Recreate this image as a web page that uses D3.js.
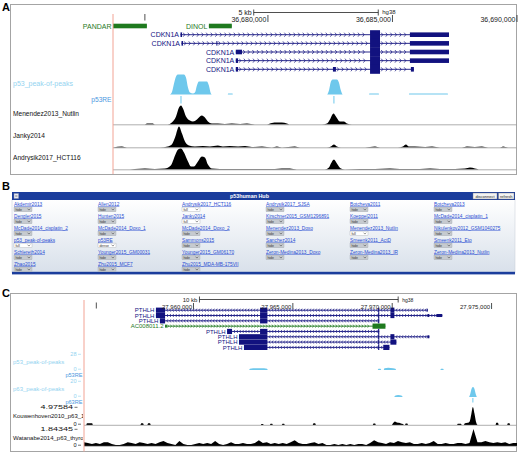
<!DOCTYPE html>
<html>
<head>
<meta charset="utf-8">
<script src="https://cdn.jsdelivr.net/npm/d3@7"></script>
<style>
  body { margin: 0; background: #fff; }
  svg { display: block; font-family: "Liberation Sans", Arial, Helvetica, sans-serif; }
</style>
</head>
<body>
<svg id="fig" width="520" height="453"></svg>
<script>
// ---------- panel A : CDKN1A locus (hg38, positions in kb) ----------
var regionA = [36673.78, 36690.00];
var rulerTicksA = [36680, 36685, 36690];
var rulerLabelsA = ["36,680,000", "36,685,000", "36,690,000"];
var scaleBarA = [36679.43, 36684.43];   // 5 kb
var markA = 36675.06;

// exon = [start, end, kind]  kind: "t" tall (coding), "u" short (utr / ncRNA)
var genesA = [
  { name: "PANDAR", row: 0, nc: true, strand: "", exons: [[36672.00, 36675.14, "u"]] },
  { name: "DINOL",  row: 0, nc: true, strand: "", exons: [[36677.63, 36678.55, "u"]] },
  { name: "CDKN1A", row: 1, strand: "+", exons: [[36676.49, 36676.55, "u"], [36684.10, 36684.50, "t"], [36685.70, 36687.27, "u"]] },
  { name: "CDKN1A", row: 2, strand: "+", exons: [[36676.53, 36676.59, "u"], [36677.93, 36677.97, "u"], [36684.10, 36684.50, "t"], [36685.70, 36687.27, "u"]] },
  { name: "CDKN1A", row: 3, strand: "+", exons: [[36678.71, 36678.96, "u"], [36684.10, 36684.50, "t"], [36685.70, 36687.27, "u"]] },
  { name: "CDKN1A", row: 4, strand: "+", exons: [[36678.71, 36678.80, "u"], [36684.10, 36684.50, "t"], [36685.70, 36687.27, "u"]] },
  { name: "CDKN1A", row: 5, strand: "+", exons: [[36678.71, 36678.80, "u"], [36682.61, 36682.73, "u"], [36684.10, 36684.50, "t"], [36685.74, 36685.86, "u"]] }
];

var p53PeaksA = [[36673.78,0],[36676.06,0],[36676.14,2],[36676.22,10],[36676.31,18],[36676.39,20],[36676.63,20],[36676.71,17],
  [36676.79,7],[36676.87,2],[36676.99,1],[36677.07,2],[36677.15,9],[36677.23,13],[36677.55,13],[36677.63,9],[36677.71,1],[36677.75,0],
  [36678.39,0],[36678.40,1],[36678.58,1],[36678.59,0],
  [36682.37,0],[36682.45,4],[36682.53,13],[36682.61,15],[36682.77,15],[36682.85,12],[36682.93,4],[36683.01,0],
  [36684.06,0],[36684.07,1],[36684.45,1],[36684.46,0],[36685.66,0],[36685.67,1],[36687.22,1],[36687.23,0],[36690.00,0]];
var p53REA = [36676.51, 36682.65];

var menendezA = [[36673.78,0],[36675.06,0],[36675.14,1],[36675.38,1],[36675.46,0],[36675.98,0],[36676.14,2],[36676.31,8],
  [36676.43,17],[36676.51,19],[36676.59,16],[36676.71,8],[36676.87,4],[36676.99,3],[36677.15,5],[36677.27,8],[36677.35,9],
  [36677.47,7],[36677.59,3],[36677.75,1],[36677.99,1],[36678.27,0.5],[36678.55,1],[36678.88,0.5],[36679.16,1],[36679.48,0],
  [36679.96,0],[36680.16,1.5],[36680.36,2],[36680.56,2],[36680.76,1],[36680.88,0],[36682.17,0],[36682.37,1],[36682.49,5],
  [36682.63,11],[36682.73,8],[36682.89,3],[36683.05,3],[36683.17,1],[36683.37,0],[36690.00,0]];
var jankyA = [[36673.78,0],[36674.14,1],[36674.34,0],[36675.66,0],[36675.98,1],[36676.14,3],[36676.27,10],[36676.43,21],
  [36676.55,14],[36676.67,6],[36676.83,2],[36677.07,1],[36677.39,1.5],[36677.67,1],[36677.99,2],[36678.19,1],[36678.47,1.5],
  [36678.80,1],[36679.08,1.5],[36679.36,0.5],[36679.76,1],[36680.16,0],[36680.36,1],[36680.56,0],[36681.08,1],[36681.29,0],
  [36682.37,0],[36682.53,1],[36682.65,3],[36682.77,1],[36682.93,0],[36683.90,0],[36684.30,1],[36684.50,0],[36685.22,0],
  [36685.42,1],[36685.54,3],[36685.66,1],[36685.90,1],[36686.31,0.5],[36686.59,1],[36686.91,0],[36687.79,0],[36687.99,1],
  [36688.31,0.5],[36688.59,1],[36688.84,0],[36689.32,0],[36689.44,1],[36689.64,0],[36690.00,0]];
var andrysikA = [[36673.78,0],[36674.46,0],[36674.66,0.5],[36675.06,1],[36675.46,0.5],[36675.86,1],[36676.10,4],[36676.27,14],
  [36676.39,20],[36676.51,21],[36676.63,17],[36676.79,8],[36676.91,3],[36677.03,3],[36677.19,8],[36677.35,13],[36677.47,12],
  [36677.59,5],[36677.75,1],[36678.07,0.5],[36678.88,0.5],[36679.68,0.5],[36680.28,0.5],[36680.56,1],[36680.88,1],[36681.16,0],
  [36682.29,0],[36682.45,2],[36682.53,6],[36682.65,10],[36682.77,6],[36682.93,1],[36683.09,0],[36683.69,0.5],[36684.30,0.5],
  [36684.90,1],[36685.30,0.5],[36686.10,0.5],[36686.51,1],[36686.91,0.5],[36687.51,0.5],[36687.91,1],[36688.11,2],[36688.31,1],
  [36688.51,0],[36690.00,0]];

// ---------- panel B : track hub ----------
var hubNames = [
  "Akdemir2013", "Allen2012", "Andrysik2017_HCT116", "Andrysik2017_SJSA", "Botcheva2011", "Botcheva2013",
  "Dengler2015", "Hunten2015", "Janky2014", "Kirschner2015_GSM1296891", "Koeppel2011", "McDade2014_cisplatin_1",
  "McDade2014_cisplatin_2", "McDade2014_Doxo_1", "McDade2014_Doxo_2", "Menendez2013_Doxo", "Menendez2013_Nutlin", "Nikulenkov2012_GSM1040275",
  "p53_peak-of-peaks", "p53RE", "Sammons2015", "Sanchez2014", "Smeenk2011_ActD", "Smeenk2011_Eto",
  "Schlereth2014", "Younger2015_GM00031", "Younger2015_GM06170", "Zeron-Medina2013_Doxo", "Zeron-Medina2013_IR", "Zeron-Medina2013_Nutlin",
  "Zhao2015", "Zhu2015_MCF7", "Zhu2015_MDA-MB-175VII"
];
var hubModes = [
  "hide", "hide", "full", "hide", "hide", "hide",
  "hide", "hide", "full", "hide", "hide", "hide",
  "hide", "hide", "hide", "hide", "full", "hide",
  "full", "dense", "hide", "hide", "hide", "hide",
  "hide", "hide", "hide", "hide", "hide", "hide",
  "hide", "hide", "hide"
];

// ---------- panel C : PTHLH locus (hg38, kb) ----------
var regionC = [27954.49, 27976.28];
var rulerTicksC = [27960, 27965, 27970, 27975];
var rulerLabelsC = ["27,960,000", "27,965,000", "27,970,000", "27,975,000"];
var scaleBarC = [27960.30, 27970.30];   // 10 kb
var markC = 27955.11;

var genesC = [
  { name: "PTHLH", strand: "-", exons: [[27958.11,27958.57,"t"],[27963.35,27963.72,"t"],[27969.29,27969.35,"t"],[27969.91,27970.11,"t"],[27971.74,27971.79,"u"]] },
  { name: "PTHLH", strand: "-", exons: [[27958.11,27958.57,"t"],[27963.35,27963.72,"t"],[27969.29,27969.35,"t"],[27969.91,27970.11,"t"],[27971.77,27971.87,"u"],[27972.22,27972.52,"u"]] },
  { name: "PTHLH", strand: "-", exons: [[27958.31,27958.57,"t"],[27963.35,27963.72,"t"],[27969.29,27969.35,"t"]] },
  { name: "AC008011.2", nc: true, strand: "+", exons: [[27958.57,27958.66,"u"],[27969.01,27969.66,"t"]] },
  { name: "PTHLH", strand: "-", exons: [[27961.69,27961.94,"t"],[27963.35,27963.72,"t"],[27969.29,27969.35,"t"]] },
  { name: "PTHLH", strand: "-", exons: [[27962.29,27963.72,"t"],[27969.29,27969.35,"t"],[27969.91,27970.11,"t"],[27971.77,27971.87,"u"]] },
  { name: "PTHLH", strand: "-", exons: [[27962.29,27963.72,"t"],[27969.29,27969.35,"t"],[27969.91,27970.21,"t"]] },
  { name: "PTHLH", strand: "-", exons: [[27962.54,27963.72,"t"],[27969.29,27969.35,"t"],[27969.55,27969.86,"t"]] }
];

var p53PeaksC = [[27954.49,0],[27962.80,0],[27962.84,2],[27963.00,3],[27963.55,3],[27963.70,2],[27963.74,0],
  [27969.27,0],[27969.31,2],[27969.41,2],[27969.45,0],[27969.57,0],[27969.61,3],[27969.80,4],[27970.05,3],[27970.16,2],[27970.20,0],
  [27972.42,0],[27972.46,2],[27972.56,2],[27972.60,0],[27976.28,0]];
var p63PeaksC = [[27954.49,0],[27970.10,0],[27970.14,1.5],[27970.30,2.5],[27970.49,1.5],[27970.53,0],
  [27973.86,0],[27973.92,3],[27973.99,10],[27974.06,12.5],[27974.14,10],[27974.21,3],[27974.27,0],[27976.28,0]];
var p63REC = [27974.06];
var kouwenhovenC = [[27954.49,0],[27954.60,0],[27954.64,0.5],[27954.90,0.5],[27954.94,0],
  [27957.33,0],[27957.37,0.45],[27957.46,0.45],[27957.50,0],[27957.68,0],[27957.72,0.45],[27957.81,0.45],[27957.85,0],
  [27963.38,0],[27963.42,0.3],[27963.50,0.3],[27963.54,0],[27963.84,0],[27963.88,0.35],[27963.96,0.35],[27964.00,0],
  [27964.44,0],[27964.48,0.35],[27964.56,0.35],[27964.60,0],[27966.00,0],[27966.04,0.45],[27966.12,0.45],[27966.16,0],
  [27969.02,0],[27969.06,0.4],[27969.14,0.4],[27969.18,0],
  [27969.98,0],[27970.04,0.5],[27970.14,1.0],[27970.24,0.7],[27970.34,0.6],[27970.44,0.4],[27970.54,0.3],[27970.60,0],
  [27970.64,0],[27970.68,0.4],[27970.76,0.4],[27970.80,0],[27973.26,0],[27973.30,0.35],[27973.46,0.35],[27973.50,0],
  [27973.60,0],[27973.66,0.5],[27973.80,0.6],[27973.90,1.0],[27973.98,3.0],[27974.06,4.97],[27974.14,3.2],[27974.22,0.8],[27974.30,0],
  [27975.20,0],[27975.24,0.6],[27975.32,0.6],[27975.36,0],[27975.78,0],[27975.82,0.5],[27975.90,0.5],[27975.94,0],[27976.28,0]];
// Watanabe2014 bigWig, 0.2 kb bins starting at regionC[0]
var watanabeBin = 0.2;
var watanabeC = [
  0.42,0.32,0.21,0.32,0.21,0.42,0.42,0.21,0.11,0.11,
  0.21,0.42,0.32,0.21,0.42,0.32,0.21,0.32,0.21,0.42,
  0.53,0.32,0.21,0.11,0.53,0.21,0.11,0.11,0.21,0.32,
  0.21,0.32,0.21,0.53,0.21,0.11,0.21,0.42,0.21,0.21,
  0.32,0.21,0.21,0.32,0.63,0.32,0.42,0.21,0.32,0.21,
  0.32,0.21,0.42,0.63,0.32,0.21,0.21,0.32,0.42,0.21,
  0.32,0.11,0.11,0.21,0.11,0.21,0.11,0.21,0.11,0.21,
  0.21,0.11,0.32,0.63,0.42,0.32,0.21,0.42,0.32,0.53,
  0.42,0.32,0.42,0.21,0.21,0.32,0.21,0.32,0.53,0.21,
  0.21,0.32,0.21,0.21,0.32,0.32,0.21,0.32,1.84,0.42,
  0.42,0.53,0.42,0.32,0.42,0.32,0.42,0.21,0.32,0.32
];
var trackMaxC = [28, 20, 4.97584, 1.84345];

// ---------- colours ----------
var NAVY = "#12127f", GREEN = "#1f7a1f", PEAK = "#6ec8ec", PEAKLBL = "#93d3f0",
    RE = "#4b97e0", GUIDE = "#f2a394", FRAME = "#a4a4a4", HUB = "#1b3d9c";

var svg = d3.select("#fig");
var defs = svg.append("defs");
defs.append("clipPath").attr("id", "clipA").append("rect").attr("x", 113).attr("y", 4).attr("width", 404).attr("height", 170);
defs.append("clipPath").attr("id", "clipC").append("rect").attr("x", 84).attr("y", 293).attr("width", 433).attr("height", 159);
defs.append("clipPath").attr("id", "clipLblC").append("rect").attr("x", 11).attr("y", 293).attr("width", 72).attr("height", 159);
var grad = defs.append("linearGradient").attr("id", "hubBg").attr("x1", 0).attr("y1", 0).attr("x2", 0).attr("y2", 1);
grad.append("stop").attr("offset", "0%").attr("stop-color", "#ffffff");
grad.append("stop").attr("offset", "100%").attr("stop-color", "#d8e0ea");

// helpers
function chevrons(x, exons, strand, y, step, hw, hh) {
  var p = "", d = strand === "+" ? 1 : -1;
  for (var i = 0; i < exons.length - 1; i++) {
    var a = x(exons[i][1]) + step * 0.6, b = x(exons[i + 1][0]) - step * 0.4;
    for (var c = a; c <= b; c += step) {
      p += "M" + (c - d * hw) + "," + (y - hh) + "L" + c + "," + y + "L" + (c - d * hw) + "," + (y + hh);
    }
  }
  return p;
}

function drawGenes(g, x, genes, rowY, opt) {
  genes.forEach(function (gene, i) {
    var y = rowY(gene.row !== undefined ? gene.row : i);
    var col = gene.nc ? GREEN : NAVY;
    var ex = gene.exons;
    var x0 = x(ex[0][0]), x1 = x(ex[ex.length - 1][1]);
    g.append("line").attr("x1", x0).attr("x2", x1).attr("y1", y).attr("y2", y)
      .attr("stroke", col).attr("stroke-width", 0.9);
    if (gene.strand) {
      g.append("path").attr("d", chevrons(x, ex, gene.strand, y, opt.step, opt.hw, opt.hh))
        .attr("fill", "none").attr("stroke", col).attr("stroke-width", 0.7);
    }
    g.selectAll(null).data(ex).join("rect")
      .attr("x", function (d) { return x(d[0]); })
      .attr("width", function (d) { return Math.max(1, x(d[1]) - x(d[0])); })
      .attr("y", function (d) { return y - (d[2] === "t" ? opt.tall : opt.short) / 2; })
      .attr("height", function (d) { return d[2] === "t" ? opt.tall : opt.short; })
      .attr("fill", col);
    opt.labels.append("text")
      .attr("x", Math.max(x0, x.range()[0]) - 1.5).attr("y", y + opt.font * 0.36)
      .attr("text-anchor", "end").attr("font-size", opt.font).attr("fill", col)
      .text(gene.name);
  });
}

function drawSignal(g, x, pts, base, top, max, color, curve) {
  var y = d3.scaleLinear().domain([0, max]).range([base, top]);
  var area = d3.area().x(function (d) { return x(d[0]); }).y0(base)
    .y1(function (d) { return y(d[1]); }).curve(curve || d3.curveMonotoneX);
  g.append("path").datum(pts).attr("d", area).attr("fill", color);
}

function drawRuler(g, x, ticks, labels, yLbl, font) {
  g.selectAll(null).data(ticks).join("text")
    .attr("x", function (d) { return x(d) - 1.5; }).attr("y", yLbl)
    .attr("text-anchor", "end").attr("font-size", font).attr("fill", "#222")
    .text(function (d, i) { return labels[i]; });
  g.selectAll(null).data(ticks).join("line")
    .attr("x1", function (d) { return x(d); }).attr("x2", function (d) { return x(d); })
    .attr("y1", yLbl - font + 0.5).attr("y2", yLbl + 0.5).attr("stroke", "#222").attr("stroke-width", 0.8);
}

function drawScaleBar(g, x, bar, y, label, font, hgDy) {
  g.append("line").attr("x1", x(bar[0])).attr("x2", x(bar[1])).attr("y1", y).attr("y2", y).attr("stroke", "#222").attr("stroke-width", 0.8);
  bar.forEach(function (v) {
    g.append("line").attr("x1", x(v)).attr("x2", x(v)).attr("y1", y - 3).attr("y2", y + 3).attr("stroke", "#222").attr("stroke-width", 0.8);
  });
  g.append("text").attr("x", x(bar[0]) - 2).attr("y", y + font * 0.36).attr("text-anchor", "end")
    .attr("font-size", font).attr("fill", "#222").text(label);
  g.append("text").attr("x", x(bar[1]) + 4).attr("y", y + hgDy).attr("font-size", font - 1).attr("fill", "#222").text("hg38");
}

// panel letters
[["A", 11], ["B", 190], ["C", 297]].forEach(function (p) {
  svg.append("text").attr("x", 2).attr("y", p[1]).attr("font-size", 11).attr("font-weight", "bold").text(p[0]);
});

// ================= panel A =================
var xA = d3.scaleLinear().domain(regionA).range([113, 517]);
var gA = svg.append("g");
gA.append("rect").attr("x", 10.5).attr("y", 4.5).attr("width", 506).attr("height", 170)
  .attr("fill", "none").attr("stroke", FRAME);
var dA = gA.append("g").attr("clip-path", "url(#clipA)");
var lblA = gA.append("g");

drawScaleBar(gA, xA, scaleBarA, 12.5, "5 kb", 7, 1.8);
drawRuler(gA, xA, rulerTicksA, rulerLabelsA, 21.5, 7);
gA.append("line").attr("x1", xA(markA)).attr("x2", xA(markA)).attr("y1", 14).attr("y2", 20.5).attr("stroke", "#222").attr("stroke-width", 0.8);

var rowA = d3.scaleLinear().domain([0, 1, 5]).range([26, 34.7, 69.3]);
drawGenes(dA, xA, genesA, rowA, { step: 4.6, hw: 1.6, hh: 2, tall: 9, short: 4.6, font: 7, labels: lblA });

drawSignal(dA, xA, p53PeaksA, 94.5, 74.5, 20, PEAK);
dA.selectAll(null).data(p53REA).join("line")
  .attr("x1", function (d) { return xA(d); }).attr("x2", function (d) { return xA(d); })
  .attr("y1", 96).attr("y2", 103.5).attr("stroke", PEAK).attr("stroke-width", 1);

var tracksA = [
  { name: "Menendez2013_Nutlin", pts: menendezA, base: 124.5, top: 104.5, max: 20, lbl: 115.5 },
  { name: "Janky2014", pts: jankyA, base: 147.5, top: 126.5, max: 21, lbl: 137.5 },
  { name: "Andrysik2017_HCT116", pts: andrysikA, base: 169.5, top: 148.5, max: 21, lbl: 159.5 }
];
tracksA.forEach(function (t) {
  drawSignal(dA, xA, t.pts, t.base, t.top, t.max, "#000");
  dA.append("line").attr("x1", 113).attr("x2", 517).attr("y1", t.base + 0.3).attr("y2", t.base + 0.3)
    .attr("stroke", "#9a9a9a").attr("stroke-width", 0.8);
  lblA.append("text").attr("x", 13).attr("y", t.lbl).attr("font-size", 6.6).attr("fill", "#111").text(t.name);
});
lblA.append("text").attr("x", 13).attr("y", 85.5).attr("font-size", 7).attr("fill", PEAKLBL).text("p53_peak-of-peaks");
lblA.append("text").attr("x", 111.5).attr("y", 102).attr("text-anchor", "end").attr("font-size", 6.6).attr("fill", RE).text("p53RE");
gA.append("line").attr("x1", 113).attr("x2", 113).attr("y1", 14).attr("y2", 174)
  .attr("stroke", GUIDE).attr("stroke-width", 1);

// ================= panel B =================
var gB = svg.append("g");
gB.append("rect").attr("x", 12).attr("y", 199).attr("width", 503).attr("height", 74).attr("fill", "url(#hubBg)")
  .attr("stroke", "#c5ccd6").attr("stroke-width", 0.5);
gB.append("rect").attr("x", 12).attr("y", 192).attr("width", 503).attr("height", 8).attr("fill", HUB);
gB.append("rect").attr("x", 12).attr("y", 271.8).attr("width", 503).attr("height", 2.6).attr("fill", HUB);
gB.append("rect").attr("x", 14).attr("y", 193.5).attr("width", 4.6).attr("height", 5).attr("fill", "#e6e8f0").attr("stroke", "#8890a8").attr("stroke-width", 0.4);
gB.append("line").attr("x1", 15.2).attr("x2", 17.4).attr("y1", 196).attr("y2", 196).attr("stroke", "#334").attr("stroke-width", 0.6);
gB.append("text").attr("x", 230).attr("y", 198.3).attr("font-size", 5.4).attr("font-weight", "bold").attr("fill", "#fff").text("p53human Hub");
[["disconnect", 473, 24], ["refresh", 498.5, 15.5]].forEach(function (b) {
  gB.append("rect").attr("x", b[1]).attr("y", 193).attr("width", b[2]).attr("height", 6)
    .attr("fill", "#f3f3f3").attr("stroke", "#777").attr("stroke-width", 0.4);
  gB.append("text").attr("x", b[1] + b[2] / 2).attr("y", 197.6).attr("text-anchor", "middle")
    .attr("font-size", 4).attr("fill", "#222").text(b[0]);
});

var colX = d3.scaleLinear().domain([0, 6]).range([14, 518]);
var rowB = d3.scaleLinear().domain([0, 6]).range([205.5, 277.5]);
var cells = gB.selectAll("g.cell").data(hubNames).join("g").attr("class", "cell")
  .attr("transform", function (d, i) { return "translate(" + colX(i % 6) + "," + rowB(Math.floor(i / 6)) + ")"; });
cells.append("text").attr("x", 0).attr("y", 0).attr("font-size", 4.8).attr("fill", "#2a4ed2")
  .attr("text-decoration", "underline").text(function (d) { return d; });
cells.append("rect").attr("x", 0).attr("y", 1.6).attr("width", 18).attr("height", 4.6)
  .attr("fill", function (d, i) { return hubModes[i] === "hide" ? "#c6cacf" : "#ffffff"; })
  .attr("stroke", "#9aa0a8").attr("stroke-width", 0.35);
cells.append("text").attr("x", 1.4).attr("y", 5.2).attr("font-size", 3.5).attr("fill", "#333")
  .text(function (d, i) { return hubModes[i]; });
cells.append("path").attr("d", "M13.6,3.2L14.9,4.6L16.2,3.2").attr("fill", "none").attr("stroke", "#333").attr("stroke-width", 0.5);

// ================= panel C =================
var xC = d3.scaleLinear().domain(regionC).range([84, 517]);
var gC = svg.append("g");
gC.append("rect").attr("x", 10.5).attr("y", 293.5).attr("width", 506).attr("height", 158)
  .attr("fill", "none").attr("stroke", FRAME);
var dC = gC.append("g").attr("clip-path", "url(#clipC)");
var lblC = gC.append("g");

drawScaleBar(gC, xC, scaleBarC, 299.5, "10 kb", 6, 2.2);
drawRuler(gC, xC, rulerTicksC, rulerLabelsC, 308.5, 6);
gC.append("line").attr("x1", xC(markC)).attr("x2", xC(markC)).attr("y1", 302.5).attr("y2", 308.5).attr("stroke", "#222").attr("stroke-width", 0.8);

var rowC = d3.scaleLinear().domain([0, 7]).range([310.2, 347.4]);
drawGenes(dC, xC, genesC, rowC, { step: 2.9, hw: 1.1, hh: 1.5, tall: 5.2, short: 3, font: 6, labels: lblC });

var tracksC = [
  { name: "p53_peak-of-peaks", pts: p53PeaksC, top: 354, base: 370, color: PEAK, lblColor: PEAKLBL },
  { name: "p63_peak-of-peaks", pts: p63PeaksC, top: 381, base: 397, color: PEAK, lblColor: PEAKLBL },
  { name: "Kouwenhoven2010_p63_1", pts: kouwenhovenC, top: 407, base: 425, color: "#000", lblColor: "#111", line: true },
  { name: "Watanabe2014_p63_thyroid", top: 429, base: 446, color: "#000", lblColor: "#111", line: true,
    pts: watanabeC.map(function (v, i) { return [regionC[0] + i * watanabeBin, v]; }), curve: d3.curveLinear }
];
var lblClip = lblC.append("g").attr("clip-path", "url(#clipLblC)");
tracksC.forEach(function (t, i) {
  var max = trackMaxC[i];
  drawSignal(dC, xC, t.pts, t.base, t.top, max, t.color, t.curve);
  if (t.line) {
    dC.append("line").attr("x1", 84).attr("x2", 517).attr("y1", t.base + 0.3).attr("y2", t.base + 0.3)
      .attr("stroke", "#9a9a9a").attr("stroke-width", 0.8);
  }
  [[String(max), t.top + 0.3], ["0", t.base - 0.8]].forEach(function (s) {
    var long = s[0].length > 3;
    // the wide decimal labels appear stretched in the screenshot
    lblC.append("text")
      .attr("transform", "translate(" + (long ? 73 : 76.5) + "," + (s[1] + 1.9) + ") scale(" + (long ? 1.45 : 1) + ",1)")
      .attr("text-anchor", "end").attr("font-size", long ? 6.2 : 5.6).attr("fill", t.lblColor).text(s[0]);
    lblC.append("line").attr("x1", long ? 74.5 : 78).attr("x2", long ? 77.5 : 81).attr("y1", s[1]).attr("y2", s[1])
      .attr("stroke", t.lblColor).attr("stroke-width", 0.6);
  });
  lblClip.append("text").attr("x", 13).attr("y", (t.top + t.base) / 2 + 2.2)
    .attr("font-size", 6).attr("fill", t.lblColor).text(t.name);
});
lblC.append("text").attr("x", 82.5).attr("y", 377).attr("text-anchor", "end").attr("font-size", 5.6).attr("fill", RE).text("p53RE");
lblC.append("text").attr("x", 82.5).attr("y", 403.5).attr("text-anchor", "end").attr("font-size", 5.6).attr("fill", RE).text("p63RE");
dC.selectAll(null).data(p63REC).join("line")
  .attr("x1", function (d) { return xC(d); }).attr("x2", function (d) { return xC(d); })
  .attr("y1", 398).attr("y2", 402.5).attr("stroke", PEAK).attr("stroke-width", 1);
gC.append("line").attr("x1", 84).attr("x2", 84).attr("y1", 300).attr("y2", 451.5)
  .attr("stroke", GUIDE).attr("stroke-width", 1);
</script>
</body>
</html>
